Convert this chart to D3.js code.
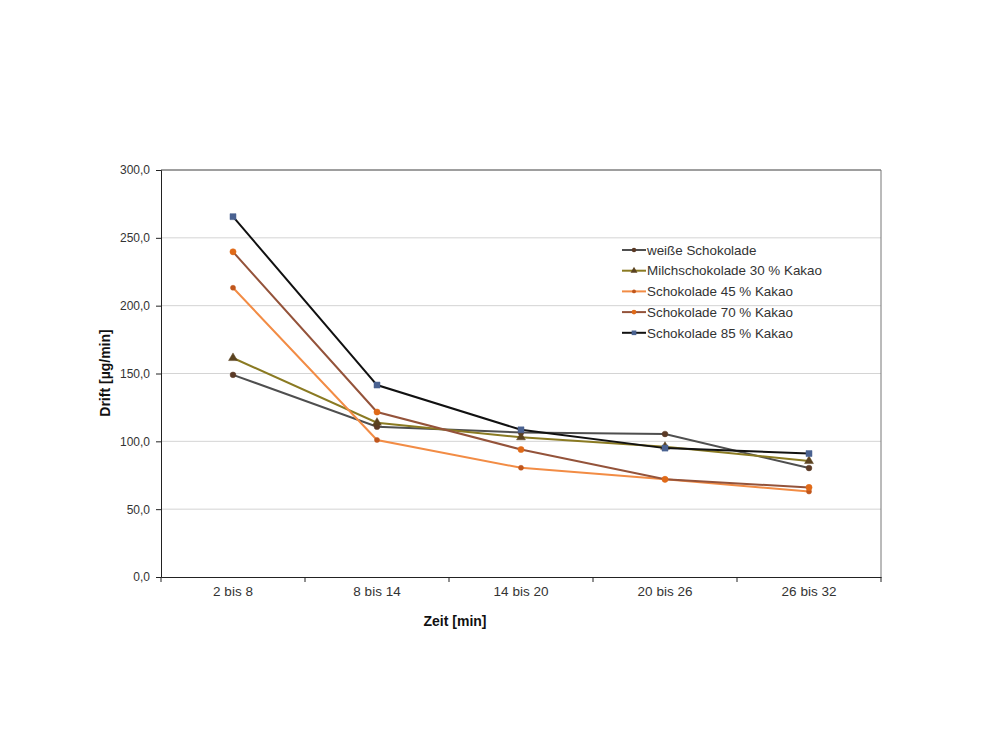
<!DOCTYPE html>
<html lang="de">
<head>
  <meta charset="utf-8">
  <title>Drift</title>
  <script src="https://d3js.org/d3.v7.min.js"></script>
  <style>
    body { margin: 0; background: #fff; }
    text { font-family: "Liberation Sans", Arial, sans-serif; }
    .tick text { font-size: 12px; fill: #333; }
    .xaxis .tick text { font-size: 13.5px; }
    .legend text { font-size: 13.4px; fill: #333; }
    .title { font-size: 14px; font-weight: bold; fill: #111; }
  </style>
</head>
<body>
  <div id="chart"></div>
  <script>
    var categories = ['2 bis 8', '8 bis 14', '14 bis 20', '20 bis 26', '26 bis 32'];
    var seriesNames = ['weiße Schokolade', 'Milchschokolade 30 % Kakao', 'Schokolade 45 % Kakao', 'Schokolade 70 % Kakao', 'Schokolade 85 % Kakao'];
    var weiss = [149, 110.8, 106.5, 105.4, 80.3];
    var milch = [161.4, 113.7, 103, 96, 85.5];
    var kakao45 = [213.2, 101, 80.5, 72, 63];
    var kakao70 = [239.7, 121.6, 94, 72, 66];
    var kakao85 = [265.6, 141.5, 108.5, 95, 91];
    var yTicks = [0, 50, 100, 150, 200, 250, 300];

    var w = 1000, h = 750;
    var m = {left: 161, right: 119, top: 170, bottom: 173};

    var series = [
      {name: seriesNames[0], values: weiss, line: '#4f4f4f', marker: '#5b3a26', shape: d3.symbolCircle, size: 26},
      {name: seriesNames[1], values: milch, line: '#8a7a22', marker: '#5a4220', shape: d3.symbolTriangle, size: 34},
      {name: seriesNames[2], values: kakao45, line: '#f28c45', marker: '#c0561c', shape: d3.symbolCircle, size: 20},
      {name: seriesNames[3], values: kakao70, line: '#94533a', marker: '#e06a18', shape: d3.symbolCircle, size: 30},
      {name: seriesNames[4], values: kakao85, line: '#111111', marker: '#4a6291', shape: d3.symbolSquare, size: 36}
    ];

    var x = d3.scaleBand()
      .domain(categories)
      .range([m.left, w - m.right]);
    var y = d3.scaleLinear()
      .domain([0, 300])
      .range([h - m.bottom, m.top]);

    var svg = d3.select('#chart').append('svg')
      .attr('width', w)
      .attr('height', h);

    // gitterlinien
    svg.selectAll('line.grid')
      .data(yTicks.slice(1))
      .enter().append('line')
      .attr('class', 'grid')
      .attr('x1', m.left).attr('x2', w - m.right)
      .attr('y1', function(d) { return y(d); })
      .attr('y2', function(d) { return y(d); })
      .attr('stroke', '#d4d4d4');

    // rahmen oben / rechts
    svg.append('line')
      .attr('x1', m.left).attr('x2', w - m.right)
      .attr('y1', m.top).attr('y2', m.top)
      .attr('stroke', '#555');
    svg.append('line')
      .attr('x1', w - m.right).attr('x2', w - m.right)
      .attr('y1', m.top).attr('y2', h - m.bottom)
      .attr('stroke', '#777');

    var yAxis = d3.axisLeft(y)
      .tickValues(yTicks)
      .tickSize(5)
      .tickPadding(6)
      .tickFormat(function(d) { return d3.format('.1f')(d).replace('.', ','); });
    svg.append('g')
      .attr('transform', 'translate(' + m.left + ',0)')
      .call(yAxis)
      .call(function(g) {
        g.select('.domain').attr('stroke', '#222');
        g.selectAll('.tick line').attr('stroke', '#222');
      });

    var xAxis = d3.axisBottom(x).tickSize(0).tickPadding(9);
    var gx = svg.append('g')
      .attr('class', 'xaxis')
      .attr('transform', 'translate(0,' + (h - m.bottom) + ')')
      .call(xAxis);
    gx.select('.domain').attr('stroke', '#222');
    // tickstriche an den kategoriegrenzen
    var bounds = categories.map(function(c) { return x(c); }).concat([w - m.right]);
    gx.selectAll('line.sep')
      .data(bounds)
      .enter().append('line')
      .attr('class', 'sep')
      .attr('x1', function(d) { return d; })
      .attr('x2', function(d) { return d; })
      .attr('y1', 0).attr('y2', 5)
      .attr('stroke', '#222');

    var cx = function(d, i) { return x(categories[i]) + x.bandwidth() / 2; };
    var line = d3.line()
      .x(cx)
      .y(function(d) { return y(d); });

    series.forEach(function(s) {
      svg.append('path')
        .datum(s.values)
        .attr('fill', 'none')
        .attr('stroke', s.line)
        .attr('stroke-width', 2)
        .attr('d', line);
      svg.selectAll(null)
        .data(s.values)
        .enter().append('path')
        .attr('d', d3.symbol().type(s.shape).size(s.size))
        .attr('transform', function(d, i) { return 'translate(' + cx(d, i) + ',' + y(d) + ')'; })
        .attr('fill', s.marker)
        .attr('stroke', s.marker)
        .attr('stroke-width', 0.5);
    });

    // legende
    var legend = svg.append('g')
      .attr('class', 'legend')
      .attr('transform', 'translate(622,250)');
    var item = legend.selectAll('g')
      .data(series)
      .enter().append('g')
      .attr('transform', function(d, i) { return 'translate(0,' + (i * 20.7) + ')'; });
    item.append('line')
      .attr('x1', 0).attr('x2', 24)
      .attr('stroke', function(d) { return d.line; })
      .attr('stroke-width', 2);
    item.append('path')
      .attr('d', function(d) { return d3.symbol().type(d.shape).size(d.size * 0.6)(); })
      .attr('transform', 'translate(12,0)')
      .attr('fill', function(d) { return d.marker; });
    item.append('text')
      .attr('x', 25)
      .attr('dy', '0.35em')
      .text(function(d) { return d.name; });

    svg.append('text')
      .attr('class', 'title')
      .attr('x', 455).attr('y', 626)
      .attr('text-anchor', 'middle')
      .text('Zeit [min]');
    svg.append('text')
      .attr('class', 'title')
      .attr('transform', 'translate(110,373) rotate(-90)')
      .attr('text-anchor', 'middle')
      .text('Drift [µg/min]');
  </script>
</body>
</html>
